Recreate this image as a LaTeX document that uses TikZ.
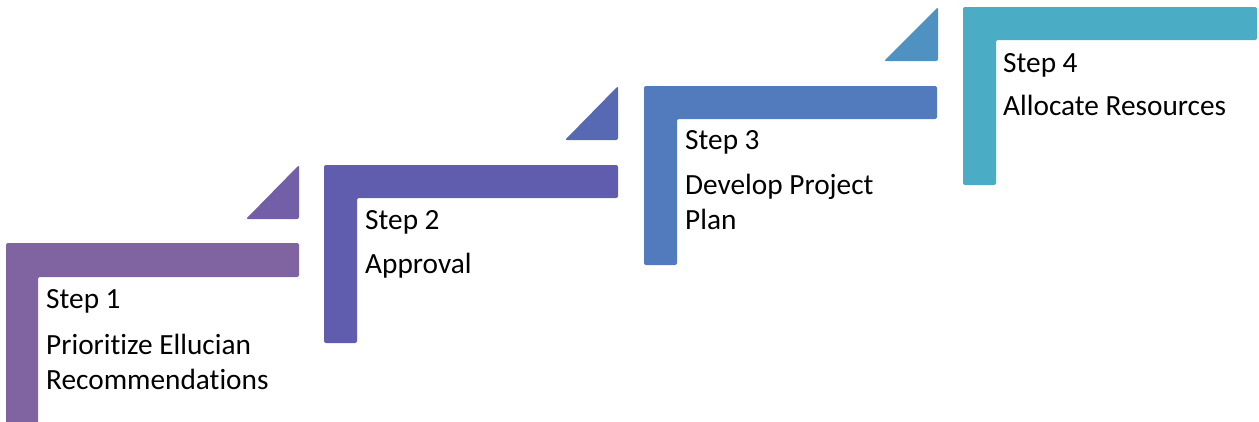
\documentclass[tikz,border=0pt]{standalone}
\usepackage{fontspec}
\setmainfont{Carlito}[Ligatures=CommonOff]
\definecolor{stepA}{HTML}{8064A2}
\definecolor{triA}{HTML}{735FA8}
\definecolor{stepB}{HTML}{605CAE}
\definecolor{triB}{HTML}{5869B4}
\definecolor{stepC}{HTML}{527BBD}
\definecolor{triC}{HTML}{4F92C1}
\definecolor{stepD}{HTML}{4BACC6}
\tikzset{
  bracket/.style={rounded corners=2pt},
  steplabel/.style={anchor=base west, inner sep=0pt, font=\fontsize{29.3}{35}\selectfont},
  steptitle/.style={anchor=base west, inner sep=0pt, align=left, font=\fontsize{29.3}{35}\selectfont},
}
% L-shaped bracket: #1 colour, (#2,#3) top-left, #4 right, #5 bar bottom, #6 stem right, #7 bottom
\newcommand{\stepbracket}[7]{%
  \fill[#1,bracket] (#2,#3) -- (#4,#3) -- (#4,#5) -- (#6,#5) -- (#6,#7) -- (#2,#7) -- cycle;}
% right triangle: #1 colour, (#2,#3) lower-left, (#4,#5) upper-right
\newcommand{\steptriangle}[5]{%
  \fill[#1,bracket] (#2,#3) -- (#4,#3) -- (#4,#5) -- cycle;}
\begin{document}
\begin{tikzpicture}[x=1pt,y=-1pt]
\useasboundingbox (0,0) rectangle (1259,421);
% brackets
\stepbracket{stepA}{6}{243}{299}{277}{38}{425}
\stepbracket{stepB}{324}{165}{618}{198}{357}{343}
\stepbracket{stepC}{644}{86}{937}{119}{677}{265}
\stepbracket{stepD}{963}{7}{1257}{40}{996}{185}
% triangles
\steptriangle{triA}{246}{219}{299}{165}
\steptriangle{triB}{565}{140}{618}{86}
\steptriangle{triC}{884}{61}{938}{7}
% labels (two-line titles are placed by their last baseline)
\node[steplabel] (s1) at (46,308) {Step 1};
\node[steptitle] (t1) at (46,389) {Prioritize Ellucian\\Recommendations};
\node[steplabel] (s2) at (365,229) {Step 2};
\node[steptitle] (t2) at (365,273) {Approval};
\node[steplabel] (s3) at (685,149) {Step 3};
\node[steptitle] (t3) at (685,229) {Develop Project\\Plan};
\node[steplabel] (s4) at (1003,72) {Step 4};
\node[steptitle] (t4) at (1003,115) {Allocate Resources};
\end{tikzpicture}
\end{document}
